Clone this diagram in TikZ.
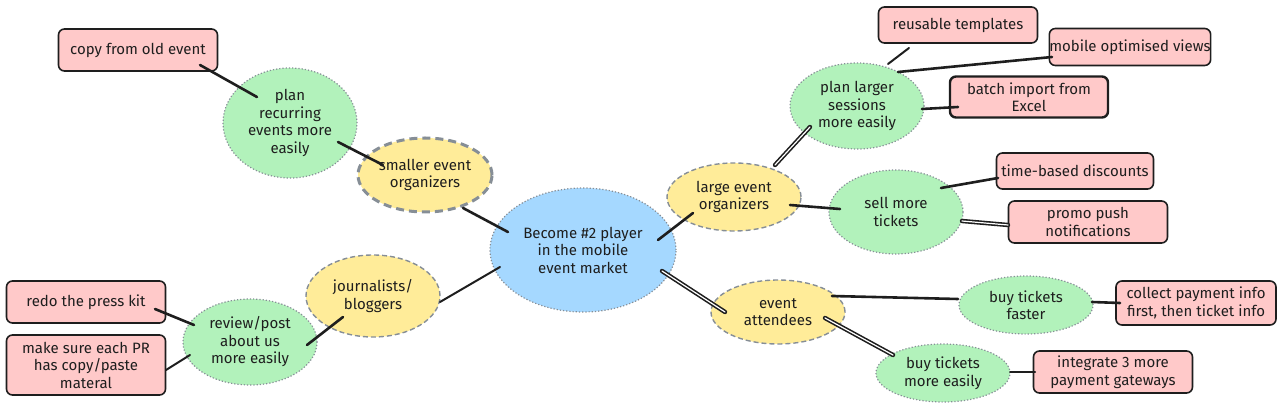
\documentclass[tikz,border=0pt]{standalone}
\usepackage{fontspec}
\setmainfont{Fira Sans}
\usetikzlibrary{shapes.geometric}
\definecolor{pinkf}{HTML}{FFC9C9}
\definecolor{greenf}{HTML}{B2F2BB}
\definecolor{yellowf}{HTML}{FFEC99}
\definecolor{bluef}{HTML}{A5D8FF}
\definecolor{greyb}{HTML}{868E96}
\definecolor{ink}{HTML}{1E1E1E}
\tikzset{
  every node/.style={font=\fontsize{15}{17.5}\selectfont, text=ink, align=center, inner sep=0pt},
  taskbox/.style={draw=ink, line width=1.6pt, fill=pinkf, rounded corners=6pt, rectangle},
  goal/.style={ellipse, fill=greenf, draw=greyb, line width=1.2pt, dotted},
  actor/.style={ellipse, fill=yellowf, draw=greyb, line width=1.4pt, dash pattern=on 5pt off 3pt},
  actorthick/.style={actor, line width=3pt, dash pattern=on 8pt off 5pt},
  hub/.style={ellipse, fill=bluef, draw=greyb, line width=1.2pt, dotted},
  conn/.style={draw=ink, line width=2.6pt, line cap=round},
  dbl/.style={draw=ink, line width=1.6pt, double=white, double distance=1.2pt, line cap=round},
}
\begin{document}
\begin{tikzpicture}[x=1pt, y=-1pt]
\useasboundingbox (0,0) rectangle (1280,411);
% nodes
\node[hub, minimum width=186pt, minimum height=124pt] (big) at (583,250) {Become \#2 player\\in the mobile\\event market};
\node[actorthick, minimum width=134pt, minimum height=74pt] (small) at (425,175) {smaller event\\organizers};
\node[goal, minimum width=134pt, minimum height=110pt] (recur) at (290,123) {plan\\recurring\\events more\\easily};
\node[taskbox, minimum width=159pt, minimum height=42pt] (copy) at (138,50) {copy from old event};
\node[actor, minimum width=134pt, minimum height=82pt] (journ) at (373,296) {journalists/\\bloggers};
\node[goal, minimum width=134pt, minimum height=86pt] (review) at (250,342) {review/post\\about us\\more easily};
\node[taskbox, minimum width=159pt, minimum height=42pt] (press) at (86,302) {redo the press kit};
\node[taskbox, minimum width=159pt, minimum height=60pt] (makesure) at (86,365) {make sure each PR\\has copy/paste\\materal};
\node[actor, minimum width=134pt, minimum height=68pt] (large) at (734,197) {large event\\organizers};
\node[actor, minimum width=134pt, minimum height=64pt] (attend) at (778,312) {event\\attendees};
\node[goal, minimum width=134pt, minimum height=86pt] (plarge) at (857,106) {plan larger\\sessions\\more easily};
\node[goal, minimum width=134pt, minimum height=84pt] (sell) at (896,212) {sell more\\tickets};
\node[taskbox, minimum width=159pt, minimum height=36pt] (reuse) at (958,25) {reusable templates};
\node[taskbox, minimum width=159pt, minimum height=37pt] (mobile) at (1130,47) {mobile optimised views};
\node[taskbox, line width=2.4pt, minimum width=158pt, minimum height=41pt] (batch) at (1029,97) {batch import from\\Excel};
\node[taskbox, minimum width=157pt, minimum height=36pt] (time) at (1075,171) {time-based discounts};
\node[taskbox, minimum width=159pt, minimum height=42pt] (promo) at (1088,222) {promo push\\notifications};
\node[goal, minimum width=134pt, minimum height=58pt] (faster) at (1026,305) {buy tickets\\faster};
\node[taskbox, minimum width=160pt, minimum height=44pt] (collect) at (1196,303) {collect payment info\\first, then ticket info};
\node[goal, minimum width=134pt, minimum height=58pt] (easily) at (943,373) {buy tickets\\more easily};
\node[taskbox, minimum width=159pt, minimum height=42pt] (integ) at (1113,372) {integrate 3 more\\payment gateways};
% connectors
\draw[conn] ([shift={(-75,-18)}]big.center) -- ([shift={(38,33)}]small.center);
\draw[conn] ([shift={(-42,-10)}]small.center) -- ([shift={(48,19)}]recur.center);
\draw[conn] ([shift={(-33,-26)}]recur.center) -- ([shift={(62,15)}]copy.center);
\draw[conn, line width=2pt] ([shift={(-83,17)}]big.center) -- ([shift={(67,6)}]journ.center);
\draw[conn] ([shift={(-30,21)}]journ.center) -- ([shift={(57,3)}]review.center);
\draw[conn] ([shift={(-56,-17)}]review.center) -- ([shift={(69,7)}]press.center);
\draw[conn, line width=2pt] ([shift={(-60,13)}]review.center) -- ([shift={(80,5)}]makesure.center);
\draw[conn] ([shift={(75,-10)}]big.center) -- ([shift={(-41,16)}]large.center);
\draw[dbl] ([shift={(79,21)}]big.center) -- ([shift={(-53,0)}]attend.center);
\draw[dbl] ([shift={(41,-32)}]large.center) -- ([shift={(-47,21)}]plarge.center);
\draw[conn] ([shift={(56,8)}]large.center) -- ([shift={(-56,-3)}]sell.center);
\draw[conn, line width=2pt] ([shift={(31,-42)}]plarge.center) -- ([shift={(-49,23)}]reuse.center);
\draw[conn] ([shift={(41,-34)}]plarge.center) -- ([shift={(-78,10)}]mobile.center);
\draw[conn] ([shift={(65,3)}]plarge.center) -- ([shift={(-71,10)}]batch.center);
\draw[conn] ([shift={(45,-24)}]sell.center) -- ([shift={(-77,7)}]time.center);
\draw[dbl] ([shift={(66,9)}]sell.center) -- ([shift={(-80,3)}]promo.center);
\draw[conn] ([shift={(54,-16)}]attend.center) -- ([shift={(-68,-6)}]faster.center);
\draw[dbl] ([shift={(47,6)}]attend.center) -- ([shift={(-50,-18)}]easily.center);
\draw[conn] ([shift={(66,-3)}]faster.center) -- ([shift={(-76,0)}]collect.center);
\draw[conn, line width=2pt] ([shift={(67,-1)}]easily.center) -- ([shift={(-78,0)}]integ.center);
\end{tikzpicture}
\end{document}
